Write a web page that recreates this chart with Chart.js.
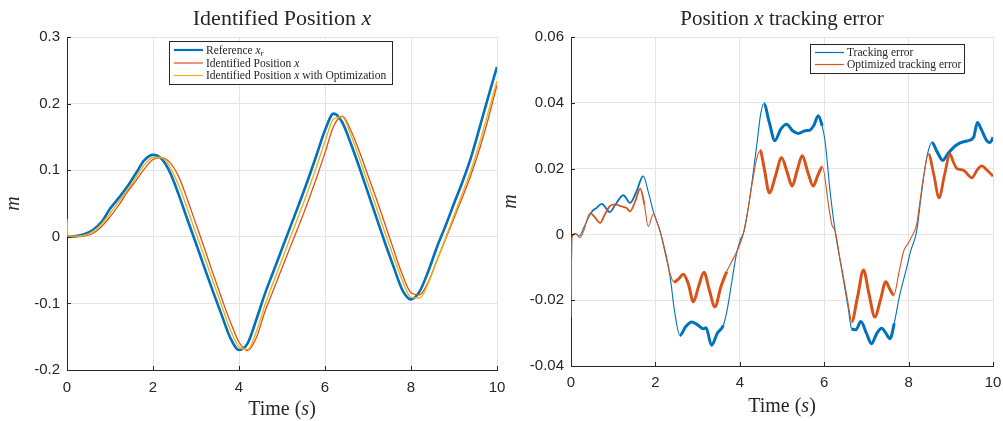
<!DOCTYPE html>
<html>
<head>
<meta charset="utf-8">
<script src="https://cdn.jsdelivr.net/npm/chart.js@4"></script>
<style>
  body { margin: 0; background: #fff; }
  #wrap { position: relative; width: 1003px; height: 421px; overflow: hidden; }
  #wrap canvas { position: absolute; top: 0; }
</style>
</head>
<body>
<div id="wrap">
  <canvas id="posChart" width="510" height="421" style="left:0"></canvas>
  <canvas id="errChart" width="503" height="421" style="left:500px"></canvas>
</div>
<script>
// left plot: position (m) against time (s)
const tPos = [0, 0.02, 0.2, 0.4, 0.6, 0.8, 1, 1.2, 1.4, 1.6, 1.8, 2, 2.2, 2.4, 2.6, 2.8, 3, 3.2, 3.4, 3.6, 3.8,
  4, 4.2, 4.4, 4.6, 4.8, 5, 5.2, 5.4, 5.6, 5.8, 6, 6.2, 6.4, 6.6, 6.8, 7, 7.2, 7.4, 7.6, 7.8,
  8, 8.2, 8.4, 8.6, 8.8, 9, 9.2, 9.4, 9.6, 9.8, 10];
const refPos = [0, 0, 0.001, 0.004, 0.010, 0.022, 0.042, 0.058, 0.075, 0.095, 0.115, 0.123, 0.117, 0.096, 0.063, 0.026,
  -0.010, -0.047, -0.083, -0.118, -0.152, -0.170, -0.160, -0.125, -0.086, -0.052, -0.018, 0.016, 0.050, 0.085, 0.122,
  0.160, 0.185, 0.172, 0.140, 0.104, 0.066, 0.028, -0.010, -0.046, -0.080, -0.094, -0.082, -0.052, -0.016, 0.016,
  0.050, 0.083, 0.120, 0.165, 0.211, 0.255];
const idPos = [0, 0, 0.000, 0.001, 0.005, 0.015, 0.030, 0.047, 0.067, 0.084, 0.102, 0.116, 0.119, 0.111, 0.090, 0.056,
  0.019, -0.018, -0.056, -0.093, -0.128, -0.158, -0.171, -0.152, -0.113, -0.080, -0.047, -0.014, 0.018, 0.052, 0.088,
  0.126, 0.166, 0.181, 0.160, 0.128, 0.092, 0.056, 0.018, -0.020, -0.057, -0.084, -0.087, -0.068, -0.036, -0.004,
  0.028, 0.060, 0.094, 0.133, 0.178, 0.228];
const optPos = [0.027, 0.001, 0.001, 0.002, 0.008, 0.019, 0.035, 0.052, 0.070, 0.089, 0.108, 0.119, 0.119, 0.104, 0.077, 0.042,
  0.005, -0.031, -0.068, -0.104, -0.140, -0.165, -0.169, -0.143, -0.103, -0.068, -0.034, 0.000, 0.034, 0.068, 0.105,
  0.143, 0.177, 0.180, 0.153, 0.118, 0.080, 0.043, 0.005, -0.031, -0.066, -0.091, -0.092, -0.070, -0.036, -0.002,
  0.032, 0.066, 0.101, 0.142, 0.188, 0.234];

// right plot: tracking errors, sampled at the turning points
const tErr = [0, 0.02, 0.1, 0.2, 0.3, 0.49, 0.6, 0.73, 0.92, 1.05, 1.24, 1.4, 1.55, 1.71, 1.85, 1.95, 2.11, 2.22, 2.35, 2.45,
  2.58, 2.72, 2.86, 3, 3.14, 3.2, 3.33, 3.47, 3.61, 3.7, 3.81, 3.92, 4, 4.1, 4.2, 4.3, 4.4, 4.5, 4.57, 4.7, 4.83, 4.97,
  5.11, 5.25, 5.39, 5.55, 5.66, 5.75, 5.86, 5.95, 6.02, 6.14, 6.26, 6.41, 6.57, 6.65, 6.75, 6.87, 7, 7.12, 7.25, 7.36,
  7.46, 7.56, 7.66, 7.78, 7.95, 8.05, 8.19, 8.3, 8.43, 8.55, 8.68, 8.81, 8.93, 9.06, 9.22, 9.38, 9.54, 9.63, 9.72, 9.85,
  9.93, 10];
const err = [-0.025, -0.001, 0.0002, -0.0005, 0.002, 0.0068, 0.0080, 0.0093, 0.0068, 0.0090, 0.0119, 0.0096, 0.0130, 0.0177,
  0.0120, 0.0070, 0.001, -0.005, -0.0130, -0.0230, -0.0307, -0.0280, -0.0266, -0.0275, -0.0287, -0.0284, -0.0337, -0.0300,
  -0.0276, -0.0230, -0.0144, -0.0060, -0.0021, 0.001, 0.008, 0.017, 0.027, 0.037, 0.0397, 0.0340, 0.0285, 0.0320, 0.0335,
  0.0315, 0.0307, 0.0315, 0.0317, 0.0330, 0.0361, 0.0330, 0.0284, 0.0131, 0.0009, -0.0103, -0.0225, -0.0287, -0.0290,
  -0.0265, -0.0300, -0.0332, -0.0300, -0.0285, -0.0300, -0.0317, -0.0270, -0.0190, -0.0103, -0.0050, 0.0009, 0.0120,
  0.0233, 0.0279, 0.0250, 0.0225, 0.0245, 0.0264, 0.0278, 0.0284, 0.0295, 0.0340, 0.0320, 0.0285, 0.0279, 0.0295];
const tOptErr = [0, 0.02, 0.1, 0.21, 0.3, 0.45, 0.55, 0.69, 0.8, 0.92, 1.04, 1.18, 1.32, 1.4, 1.52, 1.64, 1.74, 1.83, 1.95,
  2.03, 2.11, 2.25, 2.35, 2.44, 2.55, 2.66, 2.78, 2.9, 3.02, 3.15, 3.28, 3.41, 3.55, 3.69, 3.8, 3.93, 4.08, 4.2, 4.3, 4.4,
  4.48, 4.58, 4.7, 4.85, 4.99, 5.12, 5.24, 5.36, 5.48, 5.61, 5.74, 5.85, 5.96, 6.1, 6.18, 6.26, 6.37, 6.49, 6.58, 6.65,
  6.79, 6.93, 7.06, 7.2, 7.33, 7.46, 7.55, 7.65, 7.78, 7.88, 7.99, 8.1, 8.19, 8.27, 8.35, 8.47, 8.6, 8.72, 8.85, 8.98,
  9.06, 9.14, 9.3, 9.5, 9.62, 9.73, 9.86, 10];
const optErr = [-0.025, -0.001, 0.0003, -0.001, 0.001, 0.0065, 0.0055, 0.0035, 0.0060, 0.0086, 0.0091, 0.0086, 0.0080,
  0.0070, 0.0100, 0.0139, 0.0090, 0.0024, 0.0062, 0.0040, 0.001, -0.006, -0.0120, -0.0145, -0.0135, -0.0121, -0.0150,
  -0.0205, -0.0160, -0.0115, -0.0170, -0.0220, -0.0160, -0.0113, -0.0085, -0.0052, 0.0, 0.008, 0.016, 0.023, 0.0255,
  0.0200, 0.0126, 0.0180, 0.0233, 0.0190, 0.0147, 0.0195, 0.0239, 0.0190, 0.0147, 0.0180, 0.0205, 0.0091, 0.003, 0.001,
  -0.0072, -0.0154, -0.0220, -0.0266, -0.0190, -0.0108, -0.0180, -0.0251, -0.0200, -0.0144, -0.0165, -0.0184, -0.0110,
  -0.0052, -0.0027, 0.0, 0.003, 0.0100, 0.0172, 0.0244, 0.0180, 0.0111, 0.0180, 0.0244, 0.0220, 0.0201, 0.0195, 0.0172,
  0.0195, 0.0208, 0.0195, 0.0177];

const BLUE = '#0072BD', ORANGE = '#D95319', YELLOW = '#EDB120';
const INK = '#262626', GRID = '#e4e4e4';
const SERIF = '"Liberation Serif", "Times New Roman", serif';
const SANS = '"Liberation Sans", Arial, Helvetica, sans-serif';

// where the error traces are smeared thick by high-frequency ripple: [from, to, width]
const rippleErr = [[0.45, 1.75, 1.8], [2.55, 3.65, 3], [4.6, 5.97, 3], [6.66, 7.62, 3], [8.5, 10, 3]];
const rippleOpt = [[0.45, 1.7, 1.8], [2.42, 3.68, 3], [4.48, 5.98, 3], [6.64, 7.66, 3], [8.45, 10, 2.8]];

const pts = (ts, vs) => ts.map((t, i) => ({ x: t, y: vs[i] }));

function segWidth(ranges, base) {
  return c => {
    const t = (c.p0.parsed.x + c.p1.parsed.x) / 2;
    const r = ranges.find(r => t >= r[0] && t <= r[1]);
    return r ? r[2] : base;
  };
}

// draws text made of [string, style] parts, style '' / 'i' / 'sub'
function drawRich(ctx, parts, x, y, size, align) {
  const fontOf = p => (p[1] ? 'italic ' : '') + (p[1] === 'sub' ? size * 0.7 : size) + 'px ' + SERIF;
  let w = 0;
  parts.forEach(p => { ctx.font = fontOf(p); w += ctx.measureText(p[0]).width; });
  let cx = align === 'center' ? x - w / 2 : x;
  ctx.textAlign = 'left';
  ctx.textBaseline = 'alphabetic';
  ctx.fillStyle = INK;
  parts.forEach(p => {
    ctx.font = fontOf(p);
    ctx.fillText(p[0], cx, p[1] === 'sub' ? y + size * 0.22 : y);
    cx += ctx.measureText(p[0]).width;
  });
}

function drawLegend(ctx, box, rows) {
  ctx.save();
  ctx.fillStyle = '#fff';
  ctx.fillRect(box.x, box.y, box.w, box.h);
  ctx.strokeStyle = INK;
  ctx.lineWidth = 1;
  ctx.strokeRect(box.x + 0.5, box.y + 0.5, box.w, box.h);
  rows.forEach(r => {
    ctx.strokeStyle = r.color;
    ctx.lineWidth = r.width;
    ctx.beginPath();
    ctx.moveTo(box.x + 5, r.y);
    ctx.lineTo(box.x + 34, r.y);
    ctx.stroke();
    drawRich(ctx, r.parts, box.x + 37, r.y + 3.5, 11.5, 'left');
  });
  ctx.restore();
}

function drawInTicks(chart) {
  const { ctx, chartArea: a, scales: { x, y } } = chart;
  ctx.save();
  ctx.strokeStyle = INK;
  ctx.lineWidth = 1;
  ctx.beginPath();
  x.ticks.forEach(t => {
    const px = Math.round(x.getPixelForValue(t.value)) + 0.5;
    ctx.moveTo(px, a.bottom); ctx.lineTo(px, a.bottom - 4);
  });
  y.ticks.forEach(t => {
    const py = Math.round(y.getPixelForValue(t.value)) + 0.5;
    ctx.moveTo(a.left, py); ctx.lineTo(a.left + 4, py);
  });
  ctx.stroke();
  ctx.restore();
}

function labelsPlugin(o) {
  return {
    id: 'labels',
    afterDraw(chart) {
      const ctx = chart.ctx;
      const a = chart.chartArea;
      const mid = (a.left + a.right) / 2;
      drawInTicks(chart);
      drawRich(ctx, o.title, mid, 25, o.titleSize, 'center');
      drawRich(ctx, [['Time (', ''], ['s', 'i'], [')', '']], mid, o.xLabelY, 20, 'center');
      ctx.save();
      ctx.translate(o.yLabelX, (a.top + a.bottom) / 2);
      ctx.rotate(-Math.PI / 2);
      drawRich(ctx, [['m', 'i']], 0, 0, 20, 'center');
      ctx.restore();
      drawLegend(ctx, o.legend, o.rows);
    }
  };
}

function axes(min, max, step, yWidth, xHeight, xPad) {
  const tickFont = { family: SANS, size: 15 };
  return {
    x: {
      type: 'linear', min: 0, max: 10,
      ticks: { stepSize: 2, font: tickFont, color: INK, padding: xPad, maxRotation: 0 },
      grid: { color: GRID, drawTicks: false },
      border: { color: INK },
      afterFit: s => { s.height = xHeight; s.paddingLeft = 0; s.paddingRight = 0; }
    },
    y: {
      min, max,
      ticks: { stepSize: step, font: tickFont, color: INK, padding: 7, callback: v => String(+v.toFixed(3)) },
      grid: { color: GRID, drawTicks: false },
      border: { color: INK },
      afterFit: s => { s.width = yWidth; }
    }
  };
}

const common = {
  responsive: false,
  animation: false,
  plugins: { legend: { display: false }, tooltip: { enabled: false } },
  elements: { point: { radius: 0 }, line: { cubicInterpolationMode: 'monotone' } }
};

new Chart(document.getElementById('posChart'), {
  type: 'line',
  data: {
    datasets: [
      { data: pts(tPos, refPos), borderColor: BLUE, borderWidth: 2.6, order: 3 },
      { data: pts(tPos, idPos), borderColor: ORANGE, borderWidth: 1.3, order: 2 },
      { data: pts(tPos, optPos), borderColor: YELLOW, borderWidth: 1.4, order: 1 }
    ]
  },
  options: {
    ...common,
    layout: { padding: { left: 0, right: 13, top: 37, bottom: 0 } },
    scales: axes(-0.2, 0.3, 0.1, 67, 51, 9)
  },
  plugins: [labelsPlugin({
    title: [['Identified Position ', ''], ['x', 'i']],
    titleSize: 22,
    xLabelY: 415, yLabelX: 19,
    legend: { x: 169, y: 41, w: 223, h: 43 },
    rows: [
      { color: BLUE, width: 2.2, y: 50, parts: [['Reference ', ''], ['x', 'i'], ['r', 'sub']] },
      { color: ORANGE, width: 1.2, y: 63, parts: [['Identified Position ', ''], ['x', 'i']] },
      { color: YELLOW, width: 1.2, y: 75.5, parts: [['Identified Position ', ''], ['x', 'i'], [' with Optimization', '']] }
    ]
  })]
});

new Chart(document.getElementById('errChart'), {
  type: 'line',
  data: {
    datasets: [
      { data: pts(tErr, err), borderColor: BLUE, borderWidth: 1.2, order: 2,
        segment: { borderWidth: segWidth(rippleErr, 1.1) } },
      { data: pts(tOptErr, optErr), borderColor: ORANGE, borderWidth: 1.2, order: 1,
        segment: { borderWidth: segWidth(rippleOpt, 1.1) } }
    ]
  },
  options: {
    ...common,
    layout: { padding: { left: 0, right: 10, top: 37, bottom: 0 } },
    scales: axes(-0.04, 0.06, 0.02, 71, 55, 8)
  },
  plugins: [labelsPlugin({
    title: [['Position ', ''], ['x', 'i'], [' tracking error', '']],
    titleSize: 21,
    xLabelY: 412, yLabelX: 16,
    legend: { x: 310, y: 44, w: 154, h: 29 },
    rows: [
      { color: BLUE, width: 1.2, y: 52.5, parts: [['Tracking error', '']] },
      { color: ORANGE, width: 1.2, y: 64.5, parts: [['Optimized tracking error', '']] }
    ]
  })]
});
</script>
</body>
</html>
